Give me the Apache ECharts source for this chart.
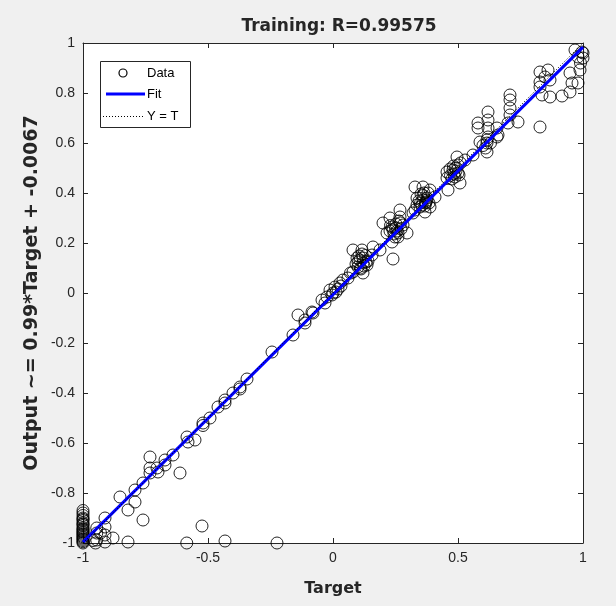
<!DOCTYPE html>
<html>
<head>
<meta charset="utf-8">
<script src="https://cdn.jsdelivr.net/npm/echarts@6/dist/echarts.min.js"></script>
<style>
  html, body { margin: 0; padding: 0; background: #f0f0f0; }
  #chart { width: 616px; height: 606px; }
</style>
</head>
<body>
<div id="chart"></div>
<script>
  // targets and network outputs
  const targets = [
    -1, -1, -1, -1, -1, -1, -1, -1, -1, -1, -1, -1, -1, -1, -1, -1, -1, -1, -1, -1, -1, -1,
    -0.96, -0.945, -0.945, -0.945, -0.93, -0.912, -0.912, -0.912, -0.912, -0.95, -0.88, -0.82,
    -0.76, -0.82, -0.852, -0.792, -0.792, -0.76, -0.732, -0.732, -0.732, -0.704,
    -0.70, -0.672, -0.672, -0.64, -0.612, -0.585, -0.432, -0.224, -0.524, -0.58,
    -0.584, -0.552, -0.52, -0.52, -0.492, -0.46, -0.432, -0.432, -0.4, -0.372,
    -0.372, -0.344, -0.244, -0.16, -0.14, -0.112, -0.112, -0.08, -0.084, -0.044,
    -0.032, -0.024, -0.012, 0, 0.008, 0.02, 0.028, 0.04, 0.06, 0.07, -0.004, 0.012, 0.032,
    0.08, 0.116, 0.096, 0.12, 0.1, 0.136, 0.08, 0.12, 0.156, 0.16, 0.188, 0.1, 0.12, 0.11, 0.13, 0.24,
    0.092, 0.108, 0.124, 0.14, 0.104, 0.116, 0.132, 0.112,
    0.2, 0.228, 0.268, 0.216, 0.248, 0.28, 0.296, 0.236, 0.268, 0.32, 0.336, 0.24, 0.25, 0.26, 0.23, 0.27,
    0.244, 0.256, 0.264, 0.236, 0.252, 0.272, 0.228, 0.26,
    0.328, 0.36, 0.388, 0.336, 0.376, 0.348, 0.388, 0.408, 0.328, 0.368, 0.36, 0.37, 0.35, 0.38, 0.36,
    0.356, 0.364, 0.372, 0.344, 0.384, 0.352, 0.368, 0.376,
    0.456, 0.5, 0.496, 0.528, 0.456, 0.508, 0.46, 0.488, 0.48, 0.47, 0.49, 0.5, 0.51, 0.56,
    0.476, 0.484, 0.492, 0.468, 0.504, 0.482,
    0.62, 0.58, 0.58, 0.62, 0.62, 0.62, 0.656, 0.656, 0.616, 0.588, 0.616, 0.6, 0.63, 0.61, 0.66, 0.616,
    0.708, 0.708, 0.708, 0.708, 0.70, 0.74, 0.828,
    0.828, 0.86, 0.848, 0.828, 0.868, 0.828, 0.836, 0.868, 0.916,
    0.948, 0.956, 0.948, 0.98, 0.988, 0.968, 0.996, 1, 0.98, 1, 0.99
  ];
  const outputs = [
    -1, -0.995, -0.99, -0.985, -0.98, -0.975, -0.97, -0.96, -0.955, -0.95, -0.94, -0.93, -0.92, -0.91, -0.9, -0.89, -0.88, -0.87, -0.965, -0.945, -0.925, -0.905,
    -0.99, -0.94, -0.96, -0.988, -0.96, -0.90, -0.936, -0.968, -0.996, -1, -0.98, -0.996,
    -0.908, -0.868, -0.816, -0.836, -0.788, -0.76, -0.656, -0.70, -0.72, -0.70,
    -0.716, -0.668, -0.688, -0.648, -0.72, -1, -0.992, -1, -0.932, -0.596,
    -0.576, -0.588, -0.52, -0.53, -0.5, -0.456, -0.428, -0.44, -0.4, -0.376,
    -0.384, -0.344, -0.236, -0.168, -0.088, -0.108, -0.12, -0.08, -0.076, -0.028,
    -0.04, -0.016, 0.012, 0, 0.024, 0.016, 0.04, 0.052, 0.06, 0.08, -0.008, 0.004, 0.028,
    0.172, 0.172, 0.14, 0.14, 0.104, 0.112, 0.084, 0.08, 0.152, 0.184, 0.172, 0.124, 0.12, 0.1, 0.15, 0.136,
    0.116, 0.132, 0.108, 0.128, 0.148, 0.156, 0.124, 0.096,
    0.28, 0.3, 0.304, 0.24, 0.224, 0.272, 0.24, 0.204, 0.332, 0.32, 0.352, 0.252, 0.26, 0.24, 0.27, 0.28,
    0.236, 0.248, 0.288, 0.264, 0.276, 0.256, 0.248, 0.224,
    0.424, 0.424, 0.412, 0.38, 0.38, 0.344, 0.344, 0.384, 0.332, 0.324, 0.372, 0.36, 0.36, 0.4, 0.39,
    0.352, 0.4, 0.364, 0.368, 0.36, 0.396, 0.348, 0.372,
    0.484, 0.512, 0.544, 0.532, 0.46, 0.44, 0.412, 0.464, 0.492, 0.47, 0.5, 0.48, 0.52, 0.552,
    0.456, 0.476, 0.488, 0.496, 0.472, 0.508,
    0.724, 0.68, 0.66, 0.692, 0.66, 0.624, 0.66, 0.624, 0.6, 0.604, 0.612, 0.59, 0.6, 0.58, 0.632, 0.564,
    0.792, 0.772, 0.74, 0.712, 0.68, 0.684, 0.664,
    0.884, 0.892, 0.864, 0.844, 0.852, 0.824, 0.792, 0.784, 0.788,
    0.88, 0.84, 0.804, 0.84, 0.892, 0.972, 0.964, 0.94, 0.944, 0.96, 0.92
  ];

  // fit line: Output ~= 0.99*Target - 0.0067, endpoints at the axis limits
  const fitX = [-1, 1];
  const fitY = [-0.9967, 0.9833];
  // Y = T reference
  const refX = [-1, 1];
  const refY = [-1, 1];

  const legendNames = ['Data', 'Fit', 'Y = T'];

  const axisColor = '#262626';
  const font = 'Liberation Sans, Arial, sans-serif';
  const boldFont = 'DejaVu Sans, sans-serif';

  const chart = echarts.init(document.getElementById('chart'));

  function boxAxis(pos, isX, showLabels, name, nameSize, nameGap) {
    return {
      type: 'value',
      position: pos,
      min: -1,
      max: 1,
      interval: isX ? 0.5 : 0.2,
      name: name || '',
      nameLocation: 'middle',
      nameGap: nameGap || 0,
      nameMoveOverlap: false,
      nameRotate: isX ? 0 : 90,
      nameTextStyle: { color: axisColor, fontSize: nameSize || 16, fontWeight: 'bold', fontFamily: boldFont },
      axisLine: { show: true, onZero: false, lineStyle: { color: axisColor, width: 1 } },
      axisTick: { show: true, inside: true, length: 5, lineStyle: { color: axisColor } },
      splitLine: { show: false },
      axisLabel: {
        show: showLabels,
        color: axisColor,
        fontSize: 14,
        fontFamily: font,
        margin: 8,
        formatter: v => String(Math.round(v * 10) / 10)
      }
    };
  }

  // legend box drawn like the MATLAB one
  const lx = 100, ly = 61;
  const legendGraphic = [
    { type: 'rect', shape: { x: lx + 0.5, y: ly + 0.5, width: 90, height: 66 },
      style: { fill: '#ffffff', stroke: axisColor, lineWidth: 1 }, z: 100 },
    { type: 'circle', shape: { cx: 123, cy: 73, r: 4 },
      style: { fill: 'none', stroke: '#000', lineWidth: 1.2 }, z: 101 },
    { type: 'line', shape: { x1: 106, y1: 94, x2: 145, y2: 94 },
      style: { stroke: '#0000ff', lineWidth: 3 }, z: 101 },
    { type: 'line', shape: { x1: 103, y1: 116.5, x2: 144, y2: 116.5 },
      style: { stroke: '#000', lineWidth: 1, lineDash: [1, 2] }, z: 101 }
  ];
  [73, 94, 116].forEach((y, i) => {
    legendGraphic.push({
      type: 'text', x: 147, y: y, z: 101,
      style: { text: legendNames[i], fill: '#000', font: '13px ' + font, textVerticalAlign: 'middle' }
    });
  });

  const option = {
    backgroundColor: '#f0f0f0',
    animation: false,
    title: {
      text: 'Training: R=0.99575',
      left: 334,
      textAlign: 'center',
      top: 13,
      textStyle: { color: axisColor, fontSize: 17, fontWeight: 'bold', fontFamily: boldFont }
    },
    grid: {
      left: 83, right: 33, top: 43, bottom: 63,
      show: true,
      backgroundColor: '#ffffff',
      borderWidth: 0
    },
    graphic: legendGraphic,
    xAxis: [
      boxAxis('bottom', true, true, 'Target', 16, 38),
      boxAxis('top', true, false)
    ],
    yAxis: [
      boxAxis('left', false, true, 'Output ~= 0.99*Target + -0.0067', 19, 41),
      boxAxis('right', false, false)
    ],
    series: [
      {
        name: 'Data',
        type: 'scatter',
        symbol: 'circle',
        symbolSize: 12,
        clip: false,
        itemStyle: { color: 'rgba(0,0,0,0)', borderColor: '#000', borderWidth: 1, opacity: 0.85 },
        data: targets.map((t, i) => [t, outputs[i]])
      },
      {
        name: 'Fit',
        type: 'line',
        symbol: 'none',
        lineStyle: { color: '#0000ff', width: 3 },
        data: fitX.map((x, i) => [x, fitY[i]])
      },
      {
        name: 'Y = T',
        type: 'line',
        symbol: 'none',
        lineStyle: { color: '#000', width: 1, type: [1, 2] },
        data: refX.map((x, i) => [x, refY[i]])
      }
    ]
  };

  chart.setOption(option);
</script>
</body>
</html>
